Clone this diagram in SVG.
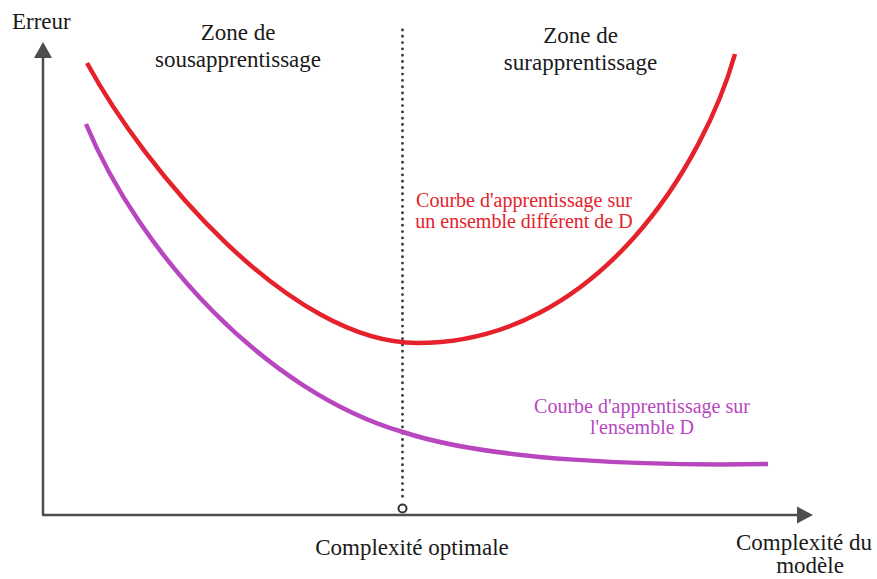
<svg xmlns="http://www.w3.org/2000/svg" width="877" height="579" viewBox="0 0 877 579">
  <style>
    .t { font-family: "Liberation Serif", "Times New Roman", serif; font-size: 23px; fill: #1a1a1a; }
    .lab { font-family: "Liberation Serif", "Times New Roman", serif; font-size: 20px; }
    .red { fill: #e5222b; }
    .pur { fill: #b847bf; }
    .axis { stroke: #4d4d4d; stroke-width: 2.5; fill: none; }
    .head { fill: #4d4d4d; }
    .curve { fill: none; stroke-width: 4.5; stroke-linecap: butt; }
  </style>
  <rect width="877" height="579" fill="#ffffff"/>

  <g id="axes">
    <line class="axis" x1="43" y1="515" x2="43" y2="56"/>
    <polygon class="head" points="43,42 52,58 34,58"/>
    <line class="axis" x1="42" y1="515" x2="799" y2="515"/>
    <polygon class="head" points="813,515 797,506.5 797,523.5"/>
  </g>

  <g id="connectors">
    <line id="optimal-line" x1="402.5" y1="30" x2="402.5" y2="502" stroke="#3a3a3a" stroke-width="2.9" stroke-linecap="round" stroke-dasharray="0 6.3"/>
    <path id="red-curve" class="curve" stroke="#e5222b" d="M87,63 C145,170 290,343 417,343 C600,343 705,160 735,54"/>
    <path id="purple-curve" class="curve" stroke="#b847bf" d="M86,124 C140,254 266,392 403,432 C490,461 650,466 768,464"/>
  </g>

  <g id="optimal-point">
    <circle cx="402.5" cy="508.5" r="4" fill="#ffffff" stroke="#333" stroke-width="2"/>
  </g>

  <g id="label-erreur">
    <text class="t" x="12" y="29">Erreur</text>
  </g>
  <g id="zone-sous">
    <text class="t" x="238" y="40" text-anchor="middle">Zone de</text>
    <text class="t" x="238" y="67" text-anchor="middle">sousapprentissage</text>
  </g>
  <g id="zone-sur">
    <text class="t" x="580.5" y="43" text-anchor="middle">Zone de</text>
    <text class="t" x="580.5" y="70" text-anchor="middle">surapprentissage</text>
  </g>
  <g id="label-red">
    <text class="lab red" x="524" y="207" text-anchor="middle">Courbe d'apprentissage sur</text>
    <text class="lab red" x="524" y="228" text-anchor="middle">un ensemble différent de D</text>
  </g>
  <g id="label-purple">
    <text class="lab pur" x="642" y="413" text-anchor="middle">Courbe d'apprentissage sur</text>
    <text class="lab pur" x="642" y="434" text-anchor="middle">l'ensemble D</text>
  </g>
  <g id="label-optimal">
    <text class="t" x="412" y="555" text-anchor="middle">Complexité optimale</text>
  </g>
  <g id="label-xaxis">
    <text class="t" x="804" y="550" text-anchor="middle">Complexité du</text>
    <text class="t" x="810" y="573" text-anchor="middle">modèle</text>
  </g>
</svg>
